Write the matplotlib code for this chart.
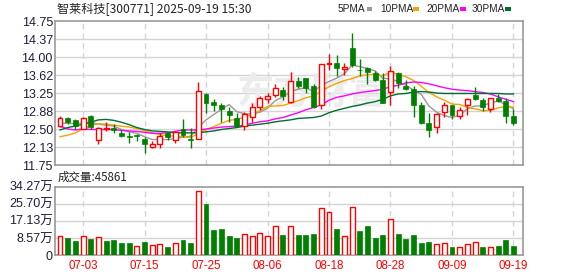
import pandas as pd
import matplotlib
matplotlib.use("Agg")
import matplotlib.pyplot as plt
from matplotlib.patches import Rectangle

plt.rcParams['font.family'] = ['Liberation Sans', 'Noto Sans CJK SC', 'DejaVu Sans']

# trading days 2025-06-30 .. 2025-09-19
dates = pd.bdate_range('2025-06-30', '2025-09-19')

opens = [12.56, 12.73, 12.69, 12.51, 12.77, 12.27, 12.49, 12.52, 12.42, 12.36,
         12.38, 12.29, 12.13, 12.18, 12.41, 12.27, 12.51, 12.30, 12.29, 13.23,
         13.07, 13.00, 12.88, 12.72, 12.56, 12.74, 12.96, 13.12, 13.21, 13.31,
         13.07, 13.50, 13.56, 13.40, 13.00, 13.85, 13.88, 13.76, 14.19, 13.73,
         13.78, 13.67, 13.53, 13.28, 13.66, 13.40, 13.33, 13.00, 12.63, 12.55,
         12.85, 13.00, 12.77, 13.00, 13.21, 13.10, 12.91, 13.14, 13.09, 12.77]
highs = [12.77, 12.76, 12.70, 12.74, 12.79, 12.55, 12.64, 12.60, 12.47, 12.44,
         12.40, 12.34, 12.26, 12.41, 12.44, 12.46, 12.71, 12.53, 13.47, 13.26,
         13.12, 13.04, 12.95, 12.83, 12.86, 13.04, 13.19, 13.26, 13.44, 13.38,
         13.68, 13.59, 13.57, 13.44, 13.86, 14.06, 14.04, 13.88, 14.51, 13.95,
         13.80, 13.71, 13.66, 13.81, 13.69, 13.53, 13.40, 13.07, 12.83, 12.83,
         13.07, 13.01, 12.95, 13.15, 13.37, 13.14, 13.14, 13.23, 13.14, 12.91]
lows = [12.55, 12.60, 12.49, 12.50, 12.51, 12.18, 12.46, 12.42, 12.33, 12.21,
        12.26, 12.01, 12.11, 12.11, 12.28, 12.21, 12.34, 12.10, 12.29, 12.84,
        12.88, 12.65, 12.65, 12.55, 12.48, 12.65, 12.90, 13.04, 13.16, 13.10,
        13.05, 13.35, 13.24, 12.93, 12.91, 13.73, 13.60, 13.62, 13.80, 13.60,
        13.43, 13.51, 13.05, 13.00, 13.35, 13.31, 12.76, 12.60, 12.34, 12.42,
        12.76, 12.70, 12.71, 12.79, 13.10, 12.88, 12.86, 13.07, 12.63, 12.58]
closes = [12.72, 12.65, 12.56, 12.72, 12.55, 12.53, 12.52, 12.47, 12.36, 12.34,
          12.35, 12.19, 12.18, 12.35, 12.33, 12.44, 12.37, 12.28, 13.29, 13.05,
          13.00, 12.92, 12.79, 12.56, 12.81, 12.96, 13.14, 13.19, 13.36, 13.18,
          13.51, 13.40, 13.35, 12.96, 13.85, 13.87, 13.78, 13.80, 13.83, 13.72,
          13.69, 13.53, 13.05, 13.71, 13.45, 13.33, 13.00, 12.63, 12.48, 12.81,
          12.99, 12.79, 12.90, 13.12, 13.12, 12.95, 13.14, 13.08, 12.78, 12.63]

# volume in 万手, and whether the bar is drawn red (1) or green (0)
volumes = [9.5, 8.7, 7.0, 9.5, 8.0, 8.9, 7.0, 7.5, 6.2, 6.2,
           4.5, 6.7, 5.0, 5.4, 4.2, 5.9, 7.5, 6.0, 32.0, 25.6,
           12.5, 13.0, 9.5, 8.5, 10.4, 9.5, 10.9, 9.5, 14.4, 10.0,
           14.4, 10.0, 10.0, 10.5, 23.6, 21.4, 13.0, 9.5, 23.9, 12.0,
           14.5, 8.5, 10.0, 18.1, 10.5, 8.0, 10.0, 6.2, 6.7, 5.5,
           5.9, 4.2, 4.0, 5.5, 6.4, 4.0, 4.0, 4.7, 7.5, 4.59]
vol_up = [1, 0, 0, 1, 0, 1, 0, 0, 0, 0,
          1, 0, 1, 1, 0, 1, 0, 0, 1, 0,
          0, 0, 0, 0, 1, 1, 1, 1, 1, 0,
          1, 0, 0, 0, 1, 1, 0, 1, 1, 0,
          0, 0, 0, 1, 0, 0, 0, 0, 0, 1,
          1, 0, 1, 1, 1, 0, 1, 0, 0, 0]

ma5 = [12.62, 12.62, 12.61, 12.63, 12.64, 12.60, 12.58, 12.56, 12.49, 12.44,
       12.41, 12.34, 12.28, 12.28, 12.28, 12.30, 12.33, 12.35, 12.54, 12.69,
       12.80, 12.91, 13.01, 12.86, 12.82, 12.81, 12.85, 12.93, 13.09, 13.17,
       13.28, 13.33, 13.36, 13.28, 13.41, 13.49, 13.56, 13.65, 13.83, 13.80,
       13.76, 13.71, 13.56, 13.54, 13.49, 13.41, 13.31, 13.22, 12.98, 12.85,
       12.78, 12.74, 12.79, 12.92, 12.98, 12.98, 13.05, 13.08, 13.01, 12.92]
ma10 = [12.34, 12.37, 12.42, 12.50, 12.57, 12.61, 12.60, 12.58, 12.56, 12.54,
        12.51, 12.46, 12.42, 12.38, 12.36, 12.35, 12.34, 12.32, 12.41, 12.48,
        12.55, 12.62, 12.68, 12.70, 12.75, 12.80, 12.88, 12.97, 12.98, 12.99,
        13.04, 13.09, 13.15, 13.19, 13.29, 13.38, 13.45, 13.51, 13.55, 13.61,
        13.63, 13.64, 13.61, 13.68, 13.64, 13.59, 13.51, 13.39, 13.26, 13.17,
        13.10, 13.02, 13.01, 12.95, 12.92, 12.88, 12.89, 12.94, 12.97, 12.95]
ma20 = [12.56, 12.50, 12.48, 12.50, 12.49, 12.49, 12.49, 12.49, 12.47, 12.46,
        12.45, 12.43, 12.41, 12.41, 12.42, 12.45, 12.48, 12.48, 12.48, 12.50,
        12.52, 12.54, 12.55, 12.56, 12.58, 12.62, 12.65, 12.67, 12.71, 12.74,
        12.79, 12.84, 12.90, 12.95, 13.00, 13.10, 13.16, 13.19, 13.23, 13.26,
        13.28, 13.30, 13.33, 13.38, 13.41, 13.46, 13.48, 13.47, 13.44, 13.40,
        13.36, 13.33, 13.31, 13.30, 13.28, 13.26, 13.23, 13.17, 13.12, 13.07]
ma30 = [12.48, 12.53, 12.56, 12.60, 12.64, 12.69, 12.70, 12.68, 12.64, 12.59,
        12.53, 12.49, 12.46, 12.45, 12.44, 12.42, 12.42, 12.42, 12.42, 12.44,
        12.46, 12.49, 12.51, 12.53, 12.56, 12.58, 12.60, 12.62, 12.65, 12.67,
        12.69, 12.72, 12.73, 12.74, 12.77, 12.84, 12.89, 12.93, 12.97, 13.00,
        13.04, 13.07, 13.12, 13.19, 13.23, 13.24, 13.27, 13.28, 13.27, 13.25,
        13.24, 13.24, 13.24, 13.24, 13.24, 13.24, 13.24, 13.24, 13.23, 13.23]

tick_labels = ['07-03', '07-15', '07-25', '08-06', '08-18', '08-28', '09-09', '09-19']
price_ticks = [11.75, 12.125, 12.5, 12.875, 13.25, 13.625, 14.0, 14.375, 14.75]
price_labels = ['11.75', '12.13', '12.50', '12.88', '13.25', '13.62', '14.00', '14.37', '14.75']
vol_ticks = [0, 8.57, 17.13, 25.70, 34.27]
vol_labels = ['0', '8.57万', '17.13万', '25.70万', '34.27万']

RED = '#ff0000'
GREEN = '#008000'
FRAME = '#999999'
GRID = '#d4d4d4'
LABEL = '#1e1e3c'
ma_colors = ['#999999', '#f5a300', '#ff00ff', '#006e32']

x = list(range(len(dates)))
date_str = [d.strftime('%m-%d') for d in dates]
tick_pos = [date_str.index(t) for t in tick_labels]

fig = plt.figure(figsize=(5.78, 2.76), dpi=100)
W, H = 578, 276
ax = fig.add_axes([55 / W, 1 - 165 / H, 467.7 / W, 144 / H])
axv = fig.add_axes([55 / W, 1 - 255 / H, 467.7 / W, 68.3 / H])

bw = 0.64
for a in (ax, axv):
    for s in a.spines.values():
        s.set_color(FRAME)
        s.set_linewidth(1.2)
    a.set_xlim(-0.65, 60.2)
    a.set_xticks(tick_pos)
    a.tick_params(length=0)
    for p in tick_pos:
        a.axvline(p, color=GRID, lw=1, ls=(0, (4, 3)), zorder=0)

# price panel
ax.set_ylim(11.75, 14.75)
ax.set_yticks(price_ticks)
ax.set_yticklabels(price_labels, fontsize=9, color=LABEL)
ax.tick_params(axis='y', pad=1.5)
ax.set_xticklabels([])
for t in price_ticks[1:-1]:
    ax.axhline(t, color=GRID, lw=1, zorder=0)

ax.text(0.55, 0.50, '东方财富', transform=ax.transAxes, ha='center', va='center',
        fontsize=27, fontweight='bold', color='#ececec', family=['Noto Sans CJK SC'], zorder=0)

for ma, col in zip([ma5, ma10, ma20, ma30], ma_colors):
    ax.plot(x, ma, color=col, lw=1, zorder=2)

for i in x:
    o, h, l, c = opens[i], highs[i], lows[i], closes[i]
    col = RED if c >= o else GREEN
    ax.vlines(i, l, h, color=col, lw=1, zorder=3)
    if c >= o:
        ax.bar(i, max(c - o, 0.008), bottom=o, width=bw, facecolor='white',
               edgecolor=col, lw=1, zorder=4)
    else:
        ax.bar(i, o - c, bottom=c, width=bw, facecolor=col,
               edgecolor=col, lw=0.5, zorder=4)

# volume panel
axv.set_ylim(0, 34.27)
axv.set_yticks(vol_ticks)
axv.set_yticklabels(vol_labels, fontsize=9, color=LABEL)
axv.tick_params(axis='y', pad=1.5)
axv.set_xticklabels(tick_labels, fontsize=8.3, color=RED)
axv.tick_params(axis='x', pad=3.5)
for t in vol_ticks[1:-1]:
    axv.axhline(t, color=GRID, lw=1, zorder=0)
for i in x:
    if vol_up[i]:
        axv.bar(i, volumes[i], width=bw, facecolor='white', edgecolor=RED, lw=1, zorder=3)
    else:
        axv.bar(i, volumes[i], width=bw, facecolor=GREEN, edgecolor=GREEN, lw=0.5, zorder=3)

# header texts
fig.text(57 / W, 1 - 8.5 / H, '智莱科技[300771] 2025-09-19 15:30', fontsize=8.7,
         color='#222222', va='center', ha='left', family=['Noto Sans CJK SC'])
fig.text(58 / W, 1 - 177.5 / H, '成交量:45861', fontsize=8.3,
         color='#222222', va='center', ha='left', family=['Noto Sans CJK SC'])

legend_items = [('5PMA', 337.5, 366.5), ('10PMA', 380, 413), ('20PMA', 426, 460), ('30PMA', 471.5, 505)]
for (name, tx, sx), col in zip(legend_items, ma_colors):
    fig.text(tx / W, 1 - 8.5 / H, name, fontsize=7.3, color='#222222', va='center', ha='left')
    fig.patches.append(Rectangle((sx / W, 1 - 10.5 / H), 5.5 / W, 3.5 / H,
                                 transform=fig.transFigure, facecolor=col, edgecolor='none'))

fig.savefig('out.png', dpi=100)
